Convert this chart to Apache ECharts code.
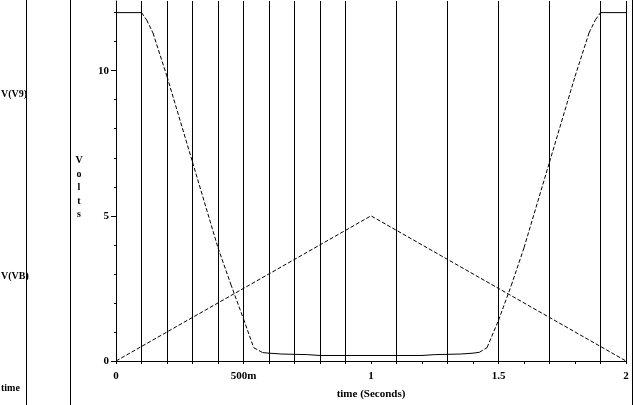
<!DOCTYPE html>
<html>
<head>
<meta charset="utf-8">
<script src="https://cdn.jsdelivr.net/npm/echarts@6.0.0/dist/echarts.min.js"></script>
<style>
html,body{margin:0;padding:0;background:#fff;}
#chart{width:633px;height:405px;}
</style>
</head>
<body>
<div id="chart"></div>
<script>
// ---- data ----
var v9Time = [0, 0.1, 0.12, 0.145, 0.2, 0.3, 0.4, 0.45, 0.5, 0.54, 0.575, 0.6, 0.65, 0.75, 0.8, 1.2, 1.25, 1.35, 1.4, 1.425, 1.455, 1.5, 1.55, 1.6, 1.7, 1.8, 1.855, 1.88, 1.9, 2.0];
var v9Volt = [12, 12, 11.75, 11.3, 9.8, 6.85, 3.9, 2.65, 1.45, 0.46, 0.29, 0.27, 0.24, 0.22, 0.19, 0.19, 0.22, 0.24, 0.27, 0.3, 0.46, 1.4, 2.6, 3.9, 6.85, 9.8, 11.3, 11.75, 12, 12];
var vbTime = [0, 1, 2];
var vbVolt = [0, 5, 0];
var gridTimes = [0.1, 0.2, 0.3, 0.4, 0.5, 0.6, 0.7, 0.8, 0.9, 1.1, 1.3, 1.5, 1.7, 1.9, 2.0];
var xTickVals = [0, 0.1, 0.2, 0.3, 0.4, 0.5, 0.6, 0.7, 0.8, 0.9, 1.0, 1.1, 1.2, 1.3, 1.4, 1.5, 1.6, 1.7, 1.8, 1.9, 2.0];
var xLabelVals = [0, 0.5, 1, 1.5, 2];
var xLabelText = ['0', '500m', '1', '1.5', '2'];
var yMajorVals = [0, 5, 10];
var yMinorVals = [1, 2, 3, 4, 6, 7, 8, 9, 11, 12];
var traceNames = ['V(V9)', 'V(VB)', 'time'];
var yName = 'Volts';
var xName = 'time (Seconds)';

// split V9 into flat (solid) and steep (dashed) pieces
var flatData = [], steepData = [];
for (var i = 0; i < v9Time.length - 1; i++) {
  var slope = Math.abs((v9Volt[i + 1] - v9Volt[i]) / (v9Time[i + 1] - v9Time[i]));
  var target = slope > 3 ? steepData : flatData;
  target.push([v9Time[i], v9Volt[i]], [v9Time[i + 1], v9Volt[i + 1]], null);
}
var vbData = vbTime.map(function (t, i) { return [t, vbVolt[i]]; });

var FONT = 'Liberation Serif';
var chart = echarts.init(document.getElementById('chart'), null, {renderer: 'canvas'});
chart.setOption({
  animation: false,
  backgroundColor: '#fff',
  grid: {left: 116, right: 7, top: 1, bottom: 37, containLabel: false},
  xAxis: {
    type: 'value', min: 0, max: 2, interval: 0.1,
    name: xName, nameLocation: 'middle', nameGap: 28,
    nameTextStyle: {color: '#000', fontFamily: FONT, fontWeight: 'bold', fontSize: 11},
    axisLine: {show: true, lineStyle: {color: '#000', width: 1}},
    axisTick: {show: true, customValues: xTickVals, length: 3, inside: false, lineStyle: {color: '#000'}},
    axisLabel: {
      customValues: xLabelVals, margin: 10, color: '#000', fontFamily: FONT, fontWeight: 'bold', fontSize: 11,
      formatter: function (v) { var k = xLabelVals.indexOf(Math.round(v * 10) / 10); return k >= 0 ? xLabelText[k] : ''; }
    },
    splitLine: {show: false}
  },
  yAxis: [{
    type: 'value', min: 0, max: 12.4,
    axisLine: {show: true, lineStyle: {color: '#000', width: 1}},
    axisTick: {show: true, customValues: yMajorVals, length: 5, lineStyle: {color: '#000'}},
    axisLabel: {customValues: yMajorVals, margin: 7, color: '#000', fontFamily: FONT, fontWeight: 'bold', fontSize: 11},
    splitLine: {show: false}
  }, {
    type: 'value', min: 0, max: 12.4, position: 'left',
    axisLine: {show: false},
    axisTick: {show: true, customValues: yMinorVals, length: 2, lineStyle: {color: '#000'}},
    axisLabel: {show: false},
    splitLine: {show: false}
  }],
  series: [{
    name: 'V(VB)', type: 'line', data: vbData, showSymbol: false, silent: true,
    lineStyle: {color: '#000', width: 1, type: [4, 2]},
    markLine: {
      silent: true, symbol: 'none', animation: false,
      label: {show: false},
      lineStyle: {color: '#000', width: 1, type: 'solid'},
      data: gridTimes.map(function (t) { return {xAxis: t}; })
    }
  }, {
    name: 'V(V9) flat', type: 'line', data: flatData, showSymbol: false, silent: true, connectNulls: false,
    lineStyle: {color: '#000', width: 1, type: 'solid'}
  }, {
    name: 'V(V9) steep', type: 'line', data: steepData, showSymbol: false, silent: true, connectNulls: false,
    lineStyle: {color: '#000', width: 1, type: [4, 2]}
  }],
  graphic: [
    {type: 'line', shape: {x1: 26.5, y1: 0, x2: 26.5, y2: 405}, style: {stroke: '#000', lineWidth: 1}},
    {type: 'line', shape: {x1: 70.5, y1: 0, x2: 70.5, y2: 405}, style: {stroke: '#000', lineWidth: 1}},
    {type: 'line', shape: {x1: 632.5, y1: 0, x2: 632.5, y2: 405}, style: {stroke: '#000', lineWidth: 1}},
    {type: 'text', left: 1, top: 89, style: {text: traceNames[0], fill: '#000', font: 'bold 10px "Liberation Serif"'}},
    {type: 'text', left: 1, top: 271, style: {text: traceNames[1], fill: '#000', font: 'bold 10px "Liberation Serif"'}},
    {type: 'text', left: 1, top: 383, style: {text: traceNames[2], fill: '#000', font: 'bold 10px "Liberation Serif"'}},
    {type: 'text', x: 79, y: 154, style: {text: yName.split('').join('\n'), fill: '#000', font: 'bold 10px "Liberation Serif"', align: 'center', lineHeight: 13.5}}
  ]
});
</script>
</body>
</html>
